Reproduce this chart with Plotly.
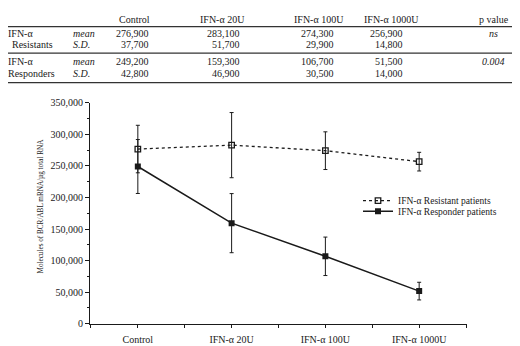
import plotly.graph_objects as go

# ---- data ----
categories = ["Control", "IFN-α 20U", "IFN-α 100U", "IFN-α 1000U"]
resist_mean = [276900, 283100, 274300, 256900]
resist_sd = [37700, 51700, 29900, 14800]
resp_mean = [249200, 159300, 106700, 51500]
resp_sd = [42800, 46900, 30500, 14000]
p_values = ["ns", "0.004"]
series_names = ["IFN-α Resistant patients", "IFN-α Responder patients"]
group_labels = [("IFN-α", "Resistants"), ("IFN-α", "Responders")]
yaxis_title = "Molecules of BCR/ABL mRNA/µg total RNA"

# page body has an 8px margin: shrink figure and shift coordinates to compensate
OFF = 8
W, H = 520 - OFF, 346 - OFF
FONT = "Liberation Serif"
INK = "#1a1a1a"

def px(x):
    return (x - OFF) / W

def py(y):
    return 1 - (y - OFF) / H

xs = list(range(len(categories)))

fig = go.Figure()
fig.add_trace(go.Scatter(
    x=xs, y=resist_mean, name=series_names[0], mode="lines+markers",
    line=dict(color=INK, width=1.3, dash="dot"),
    marker=dict(symbol="square-open", size=5.5, color=INK, line=dict(width=1.3, color=INK)),
    error_y=dict(type="data", array=resist_sd, visible=True, color=INK, thickness=1, width=2),
    legend="legend",
))
fig.add_trace(go.Scatter(
    x=xs, y=resp_mean, name=series_names[1], mode="lines+markers",
    line=dict(color=INK, width=1.5),
    marker=dict(symbol="square", size=6, color=INK),
    error_y=dict(type="data", array=resp_sd, visible=True, color=INK, thickness=1, width=2),
    legend="legend2",
))

# plot area in reference pixels
L, R, T, B = 90, 467, 101, 329

fig.update_layout(
    width=W, height=H,
    margin=dict(l=0, r=0, t=0, b=0),
    paper_bgcolor="white", plot_bgcolor="white",
    font=dict(family=FONT, size=10, color=INK),
    xaxis=dict(
        domain=[px(L), px(R)], range=[-0.51, 3.51],
        tickmode="array", tickvals=xs, ticktext=categories,
        showline=True, linecolor=INK, linewidth=1,
        ticks="outside", ticklen=3, tickcolor=INK, showgrid=False, zeroline=False,
        tickfont=dict(family=FONT, size=10, color=INK), ticklabelstandoff=3,
        minor=dict(tick0=0.5, dtick=1, ticks="outside", ticklen=3, tickcolor=INK),
    ),
    yaxis=dict(
        domain=[py(B), py(T)], range=[0, 350000],
        tickmode="linear", tick0=0, dtick=50000, tickformat=",d",
        showline=True, linecolor=INK, linewidth=1,
        ticks="outside", ticklen=4, tickcolor=INK, showgrid=False, zeroline=False,
        tickfont=dict(family=FONT, size=10, color=INK),
        minor=dict(dtick=25000, ticks="outside", ticklen=2, tickcolor=INK),
    ),
    legend=dict(
        x=px(358), y=py(202), xanchor="left", yanchor="middle",
        bgcolor="rgba(0,0,0,0)", font=dict(family=FONT, size=9.5, color=INK),
        itemwidth=30, tracegroupgap=0,
    ),
    legend2=dict(
        x=px(358), y=py(213), xanchor="left", yanchor="middle",
        bgcolor="rgba(0,0,0,0)", font=dict(family=FONT, size=9.5, color=INK),
        itemwidth=30, tracegroupgap=0,
    ),
    showlegend=True,
)

ann = []
# y axis title
ann.append(dict(x=px(41), y=py(208), xref="paper", yref="paper", text=yaxis_title,
                textangle=-90, showarrow=False, font=dict(family=FONT, size=7.2, color=INK),
                xanchor="center", yanchor="middle"))

# ---- table ----
header_x = [134, 222, 319, 391]
num_right_x = [150, 241, 335, 404]
header_y = 15
row_y = [(29, 41), (58.5, 70.5)]
line_y = [22, 49.5, 80]
tfont = dict(family=FONT, size=10, color=INK)
common = dict(xref="paper", yref="paper", showarrow=False, font=tfont, yanchor="middle", borderpad=0)

for cx, cat in zip(header_x, categories):
    ann.append(dict(x=px(cx), y=py(header_y), text=cat, xanchor="center", **common))
ann.append(dict(x=px(494), y=py(header_y), text="p value", xanchor="center", **common))

groups = [(resist_mean, resist_sd), (resp_mean, resp_sd)]
second_left = [11, 7]
for gi, ((m, s), (y1, y2)) in enumerate(zip(groups, row_y)):
    ann.append(dict(x=px(7), y=py(y1), text=group_labels[gi][0], xanchor="left", **common))
    ann.append(dict(x=px(second_left[gi]), y=py(y2), text=group_labels[gi][1], xanchor="left", **common))
    ann.append(dict(x=px(72), y=py(y1), text="<i>mean</i>", xanchor="left", **common))
    ann.append(dict(x=px(72), y=py(y2), text="<i>S.D.</i>", xanchor="left", **common))
    for rx, mv, sv in zip(num_right_x, m, s):
        ann.append(dict(x=px(rx), y=py(y1), text=f"{mv:,}", xanchor="right", **common))
        ann.append(dict(x=px(rx), y=py(y2), text=f"{sv:,}", xanchor="right", **common))
    ann.append(dict(x=px(493), y=py(y1), text=f"<i>{p_values[gi]}</i>", xanchor="center", **common))

fig.update_layout(annotations=ann)

shapes = []
for ly in line_y:
    shapes.append(dict(type="line", xref="paper", yref="paper", x0=px(8), x1=px(513),
                       y0=py(ly), y1=py(ly), line=dict(color="#333", width=1.3)))
fig.update_layout(shapes=shapes)

fig.write_html("out.html")
